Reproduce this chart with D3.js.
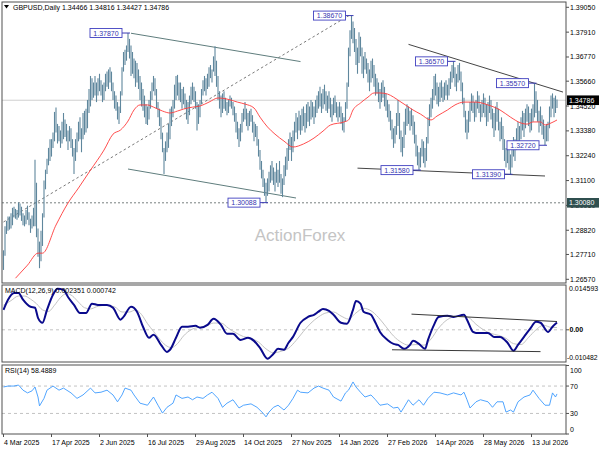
<!DOCTYPE html>
<html><head><meta charset="utf-8">
<script src="https://cdn.jsdelivr.net/npm/d3@7"></script>
<style>
body{margin:0;background:#fff}
svg{display:block}
text{font-family:"Liberation Sans",Arial,sans-serif;font-size:7px;fill:#000}
</style></head><body>
<svg id="c" width="600" height="450"></svg>
<script>
const symbolTitle = "GBPUSD,Daily  1.34466 1.34816 1.34427 1.34786";
const dateLabels = ["4 Mar 2025","17 Apr 2025","2 Jun 2025","16 Jul 2025","29 Aug 2025","14 Oct 2025","27 Nov 2025","14 Jan 2026","27 Feb 2026","14 Apr 2026","28 May 2026","13 Jul 2026"];
const dateIdx = [0,32,64,96,128,160,192,224,256,288,320,352];
const priceTicks = [1.39050,1.37910,1.36770,1.35660,1.34520,1.33380,1.32240,1.31100,1.29960,1.28820,1.27710,1.26570];
const lastPrice = 1.34786;
const supportLevel = 1.30080;

const lows = [
1.2700,1.2765,1.2865,1.2880,1.2885,1.2890,1.2905,1.2940,1.2935,1.2930,
1.2940,1.2950,1.2925,1.2905,1.2900,1.2910,1.2930,1.2905,1.2870,1.2890,
1.2900,1.2900,1.2850,1.2760,1.2708,1.2740,1.2810,1.2940,1.3070,1.3140,
1.3180,1.3200,1.3220,1.3260,1.3290,1.3330,1.3280,1.3290,1.3260,1.3280,
1.3300,1.3310,1.3290,1.3250,1.3290,1.3260,1.3220,1.3140,1.3200,1.3240,
1.3290,1.3300,1.3240,1.3300,1.3320,1.3330,1.3350,1.3420,1.3450,1.3480,
1.3490,1.3500,1.3470,1.3500,1.3520,1.3500,1.3470,1.3480,1.3520,1.3540,
1.3530,1.3560,1.3520,1.3480,1.3440,1.3430,1.3390,1.3370,1.3420,1.3500,
1.3610,1.3640,1.3660,1.3700,1.3670,1.3590,1.3600,1.3580,1.3540,1.3560,
1.3530,1.3480,1.3450,1.3430,1.3400,1.3370,1.3365,1.3390,1.3440,1.3480,
1.3520,1.3500,1.3440,1.3400,1.3360,1.3300,1.3240,1.3140,1.3200,1.3240,
1.3260,1.3300,1.3360,1.3400,1.3440,1.3480,1.3500,1.3480,1.3470,1.3440,
1.3460,1.3440,1.3390,1.3370,1.3410,1.3460,1.3480,1.3470,1.3440,1.3340,
1.3370,1.3400,1.3460,1.3500,1.3520,1.3500,1.3530,1.3540,1.3580,1.3560,
1.3610,1.3590,1.3540,1.3480,1.3440,1.3400,1.3420,1.3440,1.3430,1.3410,
1.3420,1.3450,1.3440,1.3410,1.3380,1.3330,1.3300,1.3264,1.3290,1.3330,
1.3380,1.3390,1.3360,1.3340,1.3360,1.3380,1.3330,1.3290,1.3310,1.3270,
1.3220,1.3160,1.3120,1.3080,1.3040,1.3009,1.3040,1.3060,1.3100,1.3110,
1.3090,1.3060,1.3100,1.3080,1.3100,1.3050,1.3034,1.3090,1.3130,1.3160,
1.3200,1.3250,1.3200,1.3240,1.3290,1.3330,1.3300,1.3340,1.3320,1.3340,
1.3360,1.3330,1.3350,1.3380,1.3360,1.3390,1.3400,1.3370,1.3400,1.3420,
1.3440,1.3450,1.3420,1.3440,1.3460,1.3430,1.3420,1.3440,1.3400,1.3380,
1.3410,1.3420,1.3400,1.3380,1.3400,1.3370,1.3340,1.3330,1.3380,1.3440,
1.3540,1.3680,1.3760,1.3740,1.3700,1.3640,1.3600,1.3650,1.3680,1.3600,
1.3580,1.3620,1.3600,1.3560,1.3520,1.3560,1.3580,1.3540,1.3500,1.3510,
1.3470,1.3440,1.3470,1.3490,1.3450,1.3430,1.3400,1.3380,1.3340,1.3300,
1.3260,1.3280,1.3320,1.3360,1.3300,1.3240,1.3220,1.3260,1.3320,1.3360,
1.3370,1.3340,1.3360,1.3320,1.3280,1.3220,1.3180,1.3158,1.3170,1.3220,
1.3190,1.3170,1.3200,1.3280,1.3360,1.3400,1.3440,1.3480,1.3500,1.3460,
1.3450,1.3470,1.3490,1.3470,1.3480,1.3500,1.3480,1.3500,1.3530,1.3560,
1.3580,1.3540,1.3520,1.3560,1.3570,1.3520,1.3460,1.3400,1.3330,1.3300,
1.3330,1.3380,1.3430,1.3420,1.3380,1.3400,1.3440,1.3420,1.3380,1.3400,
1.3420,1.3400,1.3360,1.3380,1.3420,1.3390,1.3350,1.3310,1.3340,1.3380,
1.3340,1.3290,1.3300,1.3250,1.3200,1.3170,1.3190,1.3160,1.3139,1.3170,
1.3220,1.3200,1.3250,1.3280,1.3260,1.3300,1.3340,1.3310,1.3350,1.3380,
1.3360,1.3330,1.3340,1.3380,1.3400,1.3420,1.3380,1.3330,1.3360,1.3320,
1.3300,1.3272,1.3290,1.3290,1.3350,1.3400,1.3440,1.3400,1.3420,1.34427];

const highs = [
1.2790,1.2900,1.2925,1.2945,1.2945,1.2960,1.2985,1.2990,1.2980,1.2975,
1.3010,1.3005,1.2990,1.2960,1.2950,1.2975,1.2995,1.2965,1.2935,1.2950,
1.2985,1.3205,1.3100,1.2890,1.2830,1.2880,1.2960,1.3110,1.3160,1.3210,
1.3260,1.3300,1.3300,1.3330,1.3425,1.3445,1.3370,1.3360,1.3340,1.3380,
1.3420,1.3390,1.3370,1.3340,1.3360,1.3350,1.3300,1.3260,1.3300,1.3330,
1.3380,1.3400,1.3350,1.3420,1.3430,1.3440,1.3480,1.3530,1.3590,1.3580,
1.3560,1.3590,1.3560,1.3580,1.3600,1.3570,1.3550,1.3560,1.3600,1.3610,
1.3620,1.3630,1.3610,1.3560,1.3520,1.3500,1.3470,1.3450,1.3520,1.3630,
1.3700,1.3710,1.3730,1.3787,1.3760,1.3730,1.3700,1.3670,1.3660,1.3650,
1.3620,1.3590,1.3560,1.3530,1.3500,1.3460,1.3450,1.3480,1.3520,1.3560,
1.3590,1.3580,1.3530,1.3470,1.3440,1.3400,1.3330,1.3260,1.3290,1.3330,
1.3370,1.3440,1.3450,1.3480,1.3550,1.3590,1.3595,1.3560,1.3560,1.3530,
1.3540,1.3510,1.3480,1.3470,1.3500,1.3540,1.3560,1.3540,1.3520,1.3470,
1.3460,1.3480,1.3530,1.3570,1.3590,1.3580,1.3600,1.3630,1.3640,1.3620,
1.3680,1.3726,1.3660,1.3590,1.3520,1.3500,1.3510,1.3520,1.3490,1.3470,
1.3480,1.3500,1.3490,1.3470,1.3450,1.3420,1.3380,1.3350,1.3370,1.3420,
1.3440,1.3470,1.3440,1.3420,1.3430,1.3440,1.3410,1.3380,1.3370,1.3360,
1.3300,1.3250,1.3200,1.3160,1.3120,1.3100,1.3120,1.3150,1.3180,1.3200,
1.3170,1.3150,1.3190,1.3160,1.3200,1.3140,1.3120,1.3180,1.3220,1.3260,
1.3300,1.3330,1.3310,1.3340,1.3380,1.3420,1.3400,1.3430,1.3410,1.3440,
1.3450,1.3420,1.3460,1.3470,1.3450,1.3480,1.3470,1.3450,1.3480,1.3500,
1.3520,1.3540,1.3510,1.3530,1.3550,1.3520,1.3500,1.3520,1.3490,1.3460,
1.3490,1.3500,1.3470,1.3450,1.3470,1.3450,1.3420,1.3400,1.3470,1.3560,
1.3720,1.3800,1.3867,1.3840,1.3810,1.3760,1.3720,1.3790,1.3770,1.3720,
1.3680,1.3700,1.3670,1.3650,1.3620,1.3660,1.3670,1.3640,1.3600,1.3580,
1.3560,1.3530,1.3560,1.3570,1.3540,1.3510,1.3480,1.3460,1.3430,1.3390,
1.3350,1.3360,1.3420,1.3480,1.3420,1.3340,1.3310,1.3380,1.3440,1.3460,
1.3450,1.3430,1.3440,1.3410,1.3380,1.3320,1.3270,1.3240,1.3260,1.3300,
1.3290,1.3260,1.3310,1.3400,1.3460,1.3490,1.3530,1.3590,1.3600,1.3560,
1.3540,1.3560,1.3570,1.3540,1.3560,1.3570,1.3550,1.3580,1.3610,1.3640,
1.3657,1.3630,1.3600,1.3640,1.3650,1.3610,1.3560,1.3490,1.3430,1.3390,
1.3430,1.3470,1.3510,1.3500,1.3470,1.3480,1.3520,1.3500,1.3460,1.3480,
1.3510,1.3490,1.3460,1.3470,1.3500,1.3480,1.3440,1.3420,1.3450,1.3470,
1.3440,1.3380,1.3400,1.3360,1.3300,1.3260,1.3290,1.3250,1.3230,1.3270,
1.3310,1.3300,1.3350,1.3380,1.3360,1.3400,1.3430,1.3420,1.3440,1.3460,
1.3450,1.3420,1.3440,1.3460,1.3557,1.3520,1.3480,1.3430,1.3450,1.3410,
1.3390,1.3360,1.3370,1.3380,1.3450,1.3500,1.3510,1.3490,1.3500,1.34816];

const maPts = [[8,1.2662],[16,1.2722],[23,1.2777],[26,1.2777],[35,1.2906],[43,1.3007],[50,1.3076],[58,1.3158],[67,1.3250],[73,1.3323],[78,1.3342],[83,1.3383],[87,1.3434],[91,1.3457],[96,1.3457],[100,1.3447],[106,1.3429],[111,1.3420],[116,1.3429],[120,1.3438],[126,1.3447],[131,1.3452],[137,1.3470],[143,1.3489],[149,1.3484],[156,1.3470],[161,1.3461],[167,1.3443],[171,1.3401],[176,1.3356],[181,1.3323],[187,1.3291],[193,1.3264],[200,1.3278],[207,1.3305],[213,1.3337],[218,1.3365],[227,1.3379],[230,1.3388],[233,1.3434],[238,1.3466],[243,1.3493],[247,1.3512],[251,1.3512],[256,1.3507],[260,1.3493],[265,1.3470],[269,1.3452],[273,1.3434],[278,1.3415],[285,1.3388],[289,1.3406],[296,1.3434],[301,1.3457],[307,1.3470],[315,1.3470],[323,1.3457],[331,1.3434],[338,1.3401],[345,1.3374],[349,1.3369],[353,1.3379],[358,1.3379],[361,1.3365],[365,1.3374],[369,1.3388]];

const macdPts = [[0,0.0065],[3,0.0098],[7,0.0120],[10,0.0120],[13,0.0098],[18,0.0075],[21,0.0072],[23,0.0039],[26,0.0023],[29,0.0065],[33,0.0114],[36,0.0134],[40,0.0130],[43,0.0107],[47,0.0081],[51,0.0055],[55,0.0055],[59,0.0085],[63,0.0081],[69,0.0081],[73,0.0072],[78,0.0033],[80,0.0042],[85,0.0075],[89,0.0059],[93,0.0010],[97,-0.0026],[100,-0.0016],[105,-0.0049],[109,-0.0072],[111,-0.0065],[115,-0.0026],[119,0.0010],[123,0.0010],[128,0.0013],[131,0.0007],[136,0.0016],[140,0.0036],[145,0.0016],[149,-0.0013],[153,-0.0013],[158,-0.0033],[163,-0.0026],[167,-0.0036],[171,-0.0059],[176,-0.0094],[180,-0.0078],[183,-0.0062],[187,-0.0065],[190,-0.0042],[193,-0.0023],[198,0.0023],[203,0.0042],[207,0.0049],[210,0.0059],[213,0.0068],[217,0.0062],[220,0.0049],[225,0.0023],[229,0.0020],[233,0.0065],[235,0.0094],[238,0.0085],[240,0.0059],[245,0.0049],[248,0.0023],[251,-0.0007],[256,-0.0033],[260,-0.0046],[263,-0.0049],[267,-0.0062],[271,-0.0049],[273,-0.0036],[277,-0.0046],[281,-0.0062],[283,-0.0033],[287,0.0016],[290,0.0042],[296,0.0046],[300,0.0042],[307,0.0049],[309,0.0033],[313,-0.0007],[315,-0.0010],[319,-0.0010],[323,-0.0010],[327,-0.0023],[331,-0.0023],[336,-0.0042],[340,-0.0068],[343,-0.0049],[347,-0.0023],[351,0.0003],[355,0.0026],[358,0.0023],[363,-0.0007],[366,0.0010],[369,0.002351]];

const signalPts = [[0,0.0080],[5,0.0095],[10,0.0110],[14,0.0110],[18,0.0100],[22,0.0085],[26,0.0065],[30,0.0060],[34,0.0080],[38,0.0105],[42,0.0118],[46,0.0110],[50,0.0090],[54,0.0072],[58,0.0068],[62,0.0075],[68,0.0080],[74,0.0075],[79,0.0058],[84,0.0058],[88,0.0065],[92,0.0050],[96,0.0020],[100,-0.0005],[104,-0.0030],[108,-0.0050],[112,-0.0058],[116,-0.0045],[120,-0.0020],[125,0.0000],[130,0.0008],[135,0.0012],[140,0.0022],[145,0.0022],[150,0.0005],[155,-0.0010],[160,-0.0022],[165,-0.0028],[170,-0.0040],[175,-0.0062],[180,-0.0075],[185,-0.0070],[190,-0.0060],[195,-0.0035],[200,-0.0005],[205,0.0022],[210,0.0042],[215,0.0055],[220,0.0058],[225,0.0045],[230,0.0035],[235,0.0055],[240,0.0070],[245,0.0062],[250,0.0040],[255,0.0010],[260,-0.0020],[265,-0.0040],[270,-0.0050],[275,-0.0048],[280,-0.0050],[285,-0.0030],[290,0.0005],[295,0.0030],[300,0.0042],[305,0.0045],[310,0.0040],[315,0.0018],[320,0.0000],[325,-0.0012],[330,-0.0018],[335,-0.0028],[340,-0.0045],[345,-0.0048],[350,-0.0025],[355,0.0000],[360,0.0015],[365,0.0008],[369,0.000742]];

const rsiPts = [[0,68.6],[3,70],[7,70],[10,71.5],[13,64],[16,60],[19,63],[21,68.6],[23,54],[24,41],[27,52],[29,64],[33,70],[37,64],[40,67],[45,60],[49,52],[53,57],[58,67],[61,60],[65,61],[69,64],[73,57],[76,47],[79,57],[81,67],[85,64],[87,57],[91,45],[96,42],[100,54],[103,42],[106,30.5],[109,39],[113,45],[115,57],[119,52],[123,54],[126,50],[129,54],[133,52],[136,57],[139,61],[143,52],[146,39],[149,45],[153,50],[157,38],[160,42],[165,44],[169,39],[173,30.5],[175,25],[177,32],[180,39],[183,42],[187,35],[190,42],[193,52],[196,64],[198,61],[203,60],[207,67],[210,70],[213,67],[217,64],[220,54],[225,48],[228,60],[230,64],[233,76],[235,68.6],[238,61],[241,54],[245,57],[248,50],[251,42],[256,44],[260,38],[263,39],[265,32],[267,39],[270,50],[273,42],[277,50],[280,42],[283,52],[287,61],[291,60],[296,57],[300,60],[305,57],[307,61],[309,50],[311,38],[315,47],[318,50],[323,47],[326,39],[329,47],[333,47],[335,32],[338,35],[340,32],[343,47],[347,54],[351,57],[353,64],[357,52],[361,42],[364,42],[366,60],[368,54],[369,58.4889]];

// trend lines as [index, value]
const dottedTrend = [[0,1.2920],[231,1.3870]];
const channelUpper = [[85,1.3786],[198,1.3656]];
const channelLower = [[83,1.3163],[195,1.3030]];
const triUpper = [[270,1.3735],[373,1.3516]];
const triLower = [[236,1.3167],[361,1.3131]];
const macdUpper = [[272,0.0051],[369,0.0027]];
const macdLower = [[259,-0.0065],[358,-0.0071]];

const labelIdx = [83,175,232,277,300,338,354,361];
const labelPrice = [1.3787,1.30088,1.3867,1.3158,1.3657,1.3139,1.3557,1.3272];
const labelText = ["1.37870","1.30088","1.38670","1.31580","1.36570","1.31390","1.35570","1.32720"];

const macdLabels = [0.014593,0.00,-0.010482];
const rsiLevels = [100,70,30,0];

// ---------- drawing ----------
const svg = d3.select("#c");
const L = 2, R = 566;
const P1 = [2,283], P2 = [285,362], P3 = [365,434];

const x = d3.scaleLinear().domain([0,369]).range([3.5,557]);
const y = d3.scaleLinear().domain([1.26570,1.39050]).range([279.3,7.3]);
const ym = d3.scaleLinear().domain([-0.010482,0.014593]).range([362,285]);
const yr = d3.scaleLinear().domain([0,100]).range([434,365.5]);

const defs = svg.append("defs");
[["c1",P1],["c2",P2],["c3",P3]].forEach(([id,p])=>{
  defs.append("clipPath").attr("id",id).append("rect").attr("x",L).attr("y",p[0]).attr("width",R-L).attr("height",p[1]-p[0]);
});

// watermark
svg.append("text").attr("x",300).attr("y",241).attr("text-anchor","middle")
  .style("font-size","17px").style("fill","#c4c4c4").text("ActionForex");

const g1 = svg.append("g").attr("clip-path","url(#c1)");

// current price line
g1.append("line").attr("x1",L).attr("x2",R).attr("y1",y(lastPrice)).attr("y2",y(lastPrice))
  .attr("stroke","#cfcfcf").attr("stroke-width",1);
// support dashed
g1.append("line").attr("x1",L).attr("x2",R).attr("y1",y(supportLevel)).attr("y2",y(supportLevel))
  .attr("stroke","#555f5f").attr("stroke-width",0.8).attr("stroke-dasharray","2,2");

// trend lines
const seg = (g, pts, sc, color, dash, w) => g.append("line")
  .attr("x1",x(pts[0][0])).attr("y1",sc(pts[0][1])).attr("x2",x(pts[1][0])).attr("y2",sc(pts[1][1]))
  .attr("stroke",color).attr("stroke-width",w||1).attr("stroke-dasharray",dash||null);
seg(g1,dottedTrend,y,"#6a6a6a","2.5,2.5",0.9);
seg(g1,channelUpper,y,"#5f7d7d",null,1);
seg(g1,channelLower,y,"#5f7d7d",null,1);
seg(g1,triUpper,y,"#454545",null,1);
seg(g1,triLower,y,"#454545",null,1);

// bars
g1.append("g").selectAll("line").data(d3.range(highs.length)).join("line")
  .attr("x1",i=>x(i)).attr("x2",i=>x(i))
  .attr("y1",i=>y(highs[i])).attr("y2",i=>y(lows[i]))
  .attr("stroke","#5f879d").attr("stroke-width",1.1);

// MA
g1.append("path").datum(maPts)
  .attr("d",d3.line().x(d=>x(d[0])).y(d=>y(d[1])).curve(d3.curveMonotoneX))
  .attr("fill","none").attr("stroke","#ff3a3a").attr("stroke-width",0.9);

// labels
labelIdx.forEach((idx,k)=>{
  const cx = x(idx), cy = y(labelPrice[k]);
  const bw = 32, bh = 9, right = cx - 6;
  svg.append("line").attr("x1",right).attr("x2",cx+2).attr("y1",cy).attr("y2",cy)
    .attr("stroke","#3a3ab4").attr("stroke-width",1);
  svg.append("rect").attr("x",right-bw).attr("y",cy-bh/2).attr("width",bw).attr("height",bh)
    .attr("fill","#fff").attr("stroke","#4040c0").attr("stroke-width",0.9);
  svg.append("text").attr("x",right-bw/2).attr("y",cy+2.5).attr("text-anchor","middle")
    .style("fill","#3535b0").text(labelText[k]);
});

// MACD panel
const g2 = svg.append("g").attr("clip-path","url(#c2)");
g2.append("line").attr("x1",L).attr("x2",R).attr("y1",ym(0)).attr("y2",ym(0))
  .attr("stroke","#b4b4b4").attr("stroke-dasharray","3,3").attr("stroke-width",0.8);
g2.append("path").datum(signalPts)
  .attr("d",d3.line().x(d=>x(d[0])).y(d=>ym(d[1])).curve(d3.curveMonotoneX))
  .attr("fill","none").attr("stroke","#c3c3c3").attr("stroke-width",1);
g2.append("path").datum(macdPts)
  .attr("d",d3.line().x(d=>x(d[0])).y(d=>ym(d[1])).curve(d3.curveMonotoneX))
  .attr("fill","none").attr("stroke","#0a0a8c").attr("stroke-width",2);
seg(g2,macdUpper,ym,"#222",null,0.9);
seg(g2,macdLower,ym,"#222",null,0.9);

// RSI panel
const g3 = svg.append("g").attr("clip-path","url(#c3)");
[70,30].forEach(v=>g3.append("line").attr("x1",L).attr("x2",R).attr("y1",yr(v)).attr("y2",yr(v))
  .attr("stroke","#b4b4b4").attr("stroke-dasharray","3,3").attr("stroke-width",0.8));
g3.append("path").datum(rsiPts)
  .attr("d",d3.line().x(d=>x(d[0])).y(d=>yr(d[1])))
  .attr("fill","none").attr("stroke","#3d9bff").attr("stroke-width",0.9);

// frames
[P1,P2,P3].forEach(p=>svg.append("rect").attr("x",L).attr("y",p[0]).attr("width",R-L).attr("height",p[1]-p[0])
  .attr("fill","none").attr("stroke","#505050").attr("stroke-width",1));

// right axis - price
priceTicks.forEach(t=>{
  svg.append("line").attr("x1",R).attr("x2",R+3).attr("y1",y(t)).attr("y2",y(t)).attr("stroke","#505050");
  svg.append("text").attr("x",570).attr("y",y(t)+2.5).text(t.toFixed(5));
});
// tags
const tag = (v, fill) => {
  const cy = y(v);
  svg.append("rect").attr("x",567).attr("y",cy-4.8).attr("width",32).attr("height",9.6).attr("fill",fill);
  svg.append("text").attr("x",569).attr("y",cy+2.5).style("fill","#fff").text(v.toFixed(5));
};
tag(lastPrice,"#000");
tag(supportLevel,"#2f4f4f");

// MACD axis
svg.append("line").attr("x1",R).attr("x2",R+3).attr("y1",ym(0)).attr("y2",ym(0)).attr("stroke","#505050");
svg.append("text").attr("x",569).attr("y",ym(macdLabels[0])+6).text(macdLabels[0].toFixed(6));
svg.append("text").attr("x",569.5).attr("y",ym(macdLabels[1])+2.5).style("font-weight","bold").text(macdLabels[1].toFixed(2));
svg.append("text").attr("x",567).attr("y",ym(macdLabels[2])-2).style("font-size","6.8px").text(macdLabels[2].toFixed(6));
// RSI axis
rsiLevels.forEach(v=>{
  const off = v===100 ? 7 : (v===0 ? -2 : 2.5);
  svg.append("line").attr("x1",R).attr("x2",R+3).attr("y1",yr(v)).attr("y2",yr(v)).attr("stroke","#505050");
  svg.append("text").attr("x",570).attr("y",yr(v)+off).text(v);
});

// time axis
dateIdx.forEach((idx,k)=>{
  svg.append("line").attr("x1",x(idx)).attr("x2",x(idx)).attr("y1",P3[1]).attr("y2",P3[1]+3).attr("stroke","#505050");
  svg.append("text").attr("x",x(idx)+0.5).attr("y",445).text(dateLabels[k]);
});

// header texts
svg.append("path").attr("d","M4,5 L9,5 L6.5,8.5 Z").attr("fill","#000");
svg.append("text").attr("x",13).attr("y",10).text(symbolTitle);
svg.append("text").attr("x",5).attr("y",293).text("MACD(12,26,9) 0.002351 0.000742");
svg.append("text").attr("x",5).attr("y",373).text("RSI(14) 58.4889");
</script>
</body></html>
